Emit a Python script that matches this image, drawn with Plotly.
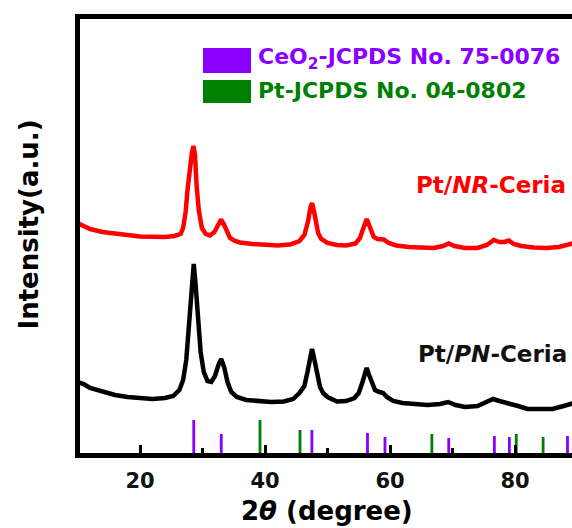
import plotly.graph_objects as go

# ---------------- data ----------------
two_theta_nr = [10, 12, 14, 16, 18, 20, 22, 24, 25.5, 26.5,
                26.9, 27.3, 27.6, 27.95, 28.3, 28.55, 28.8, 29.05, 29.4, 29.9,
                30.5, 31.2, 31.9, 32.5, 32.96, 33.4, 33.9, 34.4, 35.2, 36,
                38, 40, 42, 44, 45.5, 46.3, 46.9, 47.25, 47.52, 47.8,
                48.05, 48.5, 49.0, 50, 51.5, 53, 54.5, 55.2, 55.63, 56.0,
                56.27, 56.6, 56.96, 57.4, 58.0, 59.0, 59.8, 61, 63, 65,
                67, 68.5, 69.4, 70.3, 72, 74, 75.5, 76.6, 77.5, 78.3,
                79.0, 79.8, 81, 83, 85, 87, 88.5, 89.5]
intensity_nr = [232, 226, 223, 221, 220, 218.5, 218, 218, 219, 221,
                227, 243, 265, 287, 302, 309, 300, 270, 245, 227,
                221, 219.5, 223, 230, 235.5, 231, 223, 217, 214, 212.5,
                211, 210, 209.5, 210.5, 214, 220, 234, 247, 252, 245,
                234, 222, 216, 212, 210, 209.5, 211.5, 217, 225, 232,
                236, 231, 225, 218, 216, 215.5, 212, 209.5, 208, 207,
                207, 209, 211.5, 209, 207, 207, 210, 215, 213, 213,
                214.5, 211, 209, 207.5, 207, 208, 211, 212]

two_theta_pn = [10, 11, 12, 14, 16, 18, 20, 22, 24, 25.3,
                26.3, 26.9, 27.4, 27.9, 28.3, 28.6, 28.9, 29.3, 29.7, 30.2,
                30.8, 31.4, 32.0, 32.6, 33.0, 33.5, 34.0, 34.6, 35.5, 37,
                39, 41, 43, 44.5, 45.5, 46.3, 46.8, 47.2, 47.52, 47.85,
                48.27, 48.8, 49.3, 50, 51.5, 53, 54.3, 55.0, 55.6, 56.0,
                56.27, 56.6, 57.07, 57.6, 58.3, 58.9, 59.5, 60.5, 62, 64,
                66, 68, 69.3, 70.5, 72, 74, 75.5, 76.5, 77.5, 79,
                80.5, 82, 84, 86, 87.5, 89.5]
intensity_pn = [73, 71, 67, 63, 60, 58, 56.5, 56, 57, 59,
                65, 75, 95, 133, 175, 191, 170, 133, 103, 83,
                74, 73, 79, 91, 96, 87, 73, 63, 58, 55,
                53.5, 53, 53.5, 56, 62, 69, 83, 97, 106, 97,
                83, 68, 62, 58, 53.5, 54, 57, 62, 73, 82,
                87, 81, 73, 65, 63, 62, 58, 54, 52, 50.5,
                50, 51, 53, 50, 48, 49, 53, 56, 54, 52,
                49, 46, 45.5, 46, 48.5, 52]

ceo2_positions = [28.6, 33.0, 47.5, 56.4, 59.2, 69.4, 76.7, 79.1, 88.4]
ceo2_heights = [35, 21, 25, 22, 18, 17, 19, 18, 19]
pt_positions = [39.2, 45.6, 66.7, 80.2, 84.5]
pt_heights = [35, 25, 21, 21, 18]

x_tick_values = [20, 40, 60, 80]
x_tick_labels = ["20", "40", "60", "80"]

label_nr = "Pt/<i>NR</i>-Ceria"
label_pn = "Pt/<i>PN</i>-Ceria"
legend_ceo2 = "CeO<sub>2</sub>-JCPDS No. 75-0076"
legend_pt = "Pt-JCPDS No. 04-0802"

# ---------------- styling ----------------
RED = "#FF0000"
BLACK = "#000000"
PURPLE = "#8A00FF"
GREEN = "#008000"
FONT = "DejaVu Sans"

W, H = 572, 528
L, R, T, B = 80, 572, 19, 453  # plot area in pixels


def fx(px):
    return (px - L) / (R - L)


def fy(py):
    return (B - py) / (B - T)


fig = go.Figure()

fig.add_trace(go.Bar(x=ceo2_positions, y=ceo2_heights, width=0.45,
                     marker=dict(color=PURPLE, line=dict(width=0)),
                     showlegend=False, hoverinfo="skip"))
fig.add_trace(go.Bar(x=pt_positions, y=pt_heights, width=0.45,
                     marker=dict(color=GREEN, line=dict(width=0)),
                     showlegend=False, hoverinfo="skip"))
fig.add_trace(go.Scatter(x=two_theta_nr, y=intensity_nr, mode="lines",
                         line=dict(color=RED, width=4.5), showlegend=False))
fig.add_trace(go.Scatter(x=two_theta_pn, y=intensity_pn, mode="lines",
                         line=dict(color=BLACK, width=4.5), showlegend=False))

x_per_px = 20 / 125.0
x0 = 20 + (L - 140) * x_per_px
x1 = 20 + (R - 140) * x_per_px

fig.update_layout(
    width=W, height=H,
    margin=dict(l=L, r=W - R, t=T, b=H - B, pad=0),
    paper_bgcolor="white", plot_bgcolor="white",
    barmode="overlay", showlegend=False,
    font=dict(family=FONT, color="black"),
    xaxis=dict(range=[x0, x1], showgrid=False, zeroline=False,
               showline=True, linecolor="black", linewidth=5, mirror=True,
               ticks="inside", ticklen=8, tickwidth=3, tickcolor="black",
               tickvals=x_tick_values, ticktext=x_tick_labels,
               ticklabelstandoff=5,
               tickfont=dict(family=FONT, size=21, color="#111", weight="bold"),
               minor=dict(ticks="inside", ticklen=5, tickwidth=3,
                          tickcolor="black", dtick=10, tick0=0, showgrid=False)),
    yaxis=dict(range=[2, 436], showgrid=False, zeroline=False,
               showline=True, linecolor="black", linewidth=5, mirror=False,
               showticklabels=False, ticks=""),
)

annotations = [
    dict(text="2<i>θ</i> (degree)", x=fx(327), y=fy(511), xref="paper", yref="paper",
         showarrow=False, xanchor="center", yanchor="middle",
         font=dict(family=FONT, size=26, color="black", weight="bold")),
    dict(text="Intensity(a.u.)", x=fx(28), y=fy(224.5), xref="paper", yref="paper",
         showarrow=False, xanchor="center", yanchor="middle", textangle=-90,
         font=dict(family=FONT, size=26, color="black", weight="bold")),
    dict(text=label_nr, x=fx(491), y=fy(185), xref="paper", yref="paper",
         showarrow=False, xanchor="center", yanchor="middle",
         font=dict(family=FONT, size=23, color=RED, weight="bold")),
    dict(text=label_pn, x=fx(492), y=fy(354), xref="paper", yref="paper",
         showarrow=False, xanchor="center", yanchor="middle",
         font=dict(family=FONT, size=23, color="#111", weight="bold")),
    dict(text=legend_ceo2, x=fx(256), y=fy(58), xref="paper", yref="paper",
         showarrow=False, xanchor="left", yanchor="middle",
         font=dict(family=FONT, size=22, color=PURPLE, weight="bold")),
    dict(text=legend_pt, x=fx(256), y=fy(90), xref="paper", yref="paper",
         showarrow=False, xanchor="left", yanchor="middle",
         font=dict(family=FONT, size=22, color=GREEN, weight="bold")),
]
fig.update_layout(annotations=annotations)

shapes = [
    dict(type="rect", xref="paper", yref="paper", x0=fx(203), x1=fx(251),
         y0=fy(73), y1=fy(48), fillcolor=PURPLE, line=dict(width=0)),
    dict(type="rect", xref="paper", yref="paper", x0=fx(203), x1=fx(251),
         y0=fy(103), y1=fy(80), fillcolor=GREEN, line=dict(width=0)),
]
fig.update_layout(shapes=shapes)

fig.write_html("out.html",
               config={"displayModeBar": False},
               post_script="document.body.style.margin='0';document.body.style.padding='0';")
